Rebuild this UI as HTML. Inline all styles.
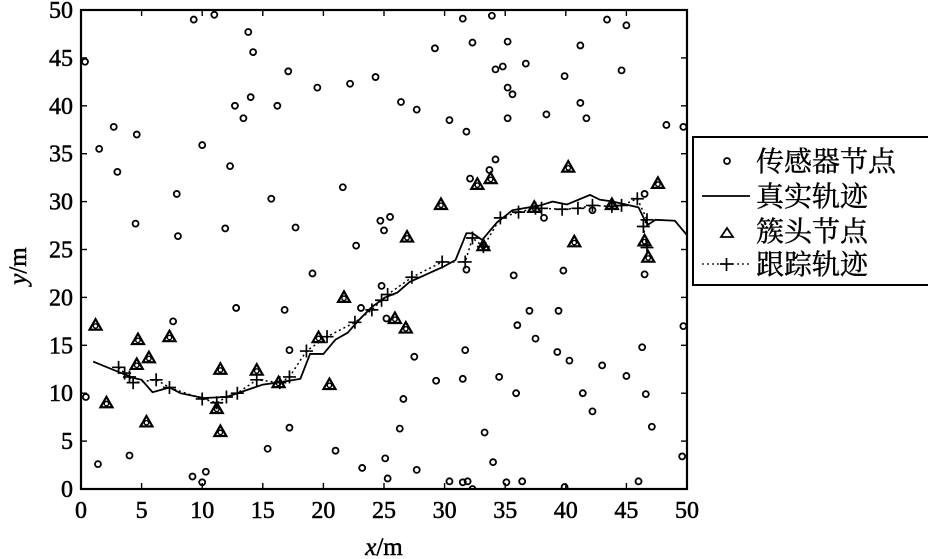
<!DOCTYPE html>
<html><head><meta charset="utf-8">
<style>
html,body{margin:0;padding:0;background:#fff;}
svg{display:block;font-family:"Liberation Serif","Noto Serif CJK SC",serif;}
</style></head>
<body>
<svg id="chart" width="928" height="559" viewBox="0 0 928 559" xmlns="http://www.w3.org/2000/svg">
<g id="axes"></g>
<g id="marks"></g>
<g id="legend">
  <rect x="693" y="137" width="240" height="148" fill="#fff" stroke="#000" stroke-width="2"/>
  <g>
    <circle cx="727" cy="161" r="3" fill="none" stroke="#000" stroke-width="1.7"/>
    <text x="756" y="171" font-size="28" font-family="'Noto Serif CJK SC','Noto Sans CJK SC',serif" stroke="#000" stroke-width="0.4">传感器节点</text>
  </g>
  <g>
    <line x1="702" y1="196" x2="750" y2="196" stroke="#000" stroke-width="1.7"/>
    <text x="756" y="206" font-size="28" font-family="'Noto Serif CJK SC','Noto Sans CJK SC',serif" stroke="#000" stroke-width="0.4">真实轨迹</text>
  </g>
  <g>
    <path d="M721,237 L727,228 L733,237 Z" fill="none" stroke="#000" stroke-width="1.8"/>
    <text x="756" y="241" font-size="28" font-family="'Noto Serif CJK SC','Noto Sans CJK SC',serif" stroke="#000" stroke-width="0.4">簇头节点</text>
  </g>
  <g>
    <line x1="702" y1="264" x2="750" y2="264" stroke="#000" stroke-width="1.3" stroke-dasharray="2,3"/>
    <line x1="720" y1="264" x2="733" y2="264" stroke="#000" stroke-width="1.7"/>
    <line x1="726.5" y1="258" x2="726.5" y2="271" stroke="#000" stroke-width="1.7"/>
    <text x="756" y="274" font-size="28" font-family="'Noto Serif CJK SC','Noto Sans CJK SC',serif" stroke="#000" stroke-width="0.4">跟踪轨迹</text>
  </g>
</g>
<text x="384" y="555" font-size="25" text-anchor="middle" stroke="#000" stroke-width="0.5"><tspan font-style="italic">x</tspan>/m</text>
<text transform="translate(26,266) rotate(-90)" font-size="25" text-anchor="middle" stroke="#000" stroke-width="0.5"><tspan font-style="italic">y</tspan>/m</text>
</svg>
<script>
const xTicks=[0,5,10,15,20,25,30,35,40,45,50];
const yTicks=[0,5,10,15,20,25,30,35,40,45,50];
const sensorX=[0.33,9.3,11.0,13.8,14.2,17.1,19.5,22.2,24.3,14.0,12.7,16.2,13.4,2.7,4.6,1.5,10.0,3.0,12.3,7.9,15.7,21.6,4.5,8.0,11.9,17.7,22.7,24.7,25.0,25.5,31.5,33.9,43.4,45.0,29.2,32.3,35.2,41.2,34.2,34.8,36.7,39.9,44.6,35.2,35.6,26.4,27.7,30.4,31.8,35.2,38.4,41.2,41.7,48.3,49.7,34.2,33.7,32.1,46.5,42.2,38.2,0.4,1.4,4.0,7.6,12.8,16.8,17.2,19.1,24.8,23.1,25.2,17.2,15.4,21.0,23.2,25.1,25.3,9.2,10.3,10.0,31.8,35.7,39.8,46.5,37.0,39.4,36.0,37.5,31.7,39.3,40.3,43.0,46.3,49.7,27.5,29.3,31.5,34.5,45.0,35.9,41.4,46.6,26.6,42.2,47.1,26.3,33.3,27.7,34.0,49.6,30.4,31.5,31.9,32.3,35.1,36.4,39.9,46.0];
const sensorY=[44.6,49.0,49.5,47.7,45.6,43.6,41.9,42.3,43.0,40.9,40.0,40.0,38.7,37.8,37.0,35.5,35.9,33.1,33.7,30.8,30.3,31.5,27.7,26.4,27.2,27.3,25.4,28.0,27.0,28.4,49.1,49.4,49.0,48.4,46.0,46.6,46.7,46.3,43.8,44.1,44.4,43.1,43.7,41.9,41.2,40.4,39.6,38.5,37.3,38.7,39.1,40.3,38.7,38.0,37.8,34.4,33.3,32.4,30.8,29.1,28.3,9.6,2.6,3.5,17.5,18.9,18.7,14.5,22.5,21.2,18.9,17.8,6.4,4.2,4.0,2.2,3.2,1.1,1.3,1.8,0.7,22.9,22.3,22.8,22.4,18.6,18.6,17.1,15.7,14.5,14.3,13.4,12.9,14.8,17.0,13.8,11.3,11.5,11.7,11.8,10.0,10.0,9.9,9.4,8.1,6.5,6.3,5.9,2.0,2.8,3.4,0.8,0.7,0.8,0.0,0.7,0.8,0.2,0.8];
const headX=[1.2,2.1,4.7,5.6,4.6,5.4,7.3,11.5,11.2,11.5,14.5,16.3,19.6,20.5,21.7,25.9,26.8,29.7,26.9,32.7,33.8,40.2,40.7,33.2,43.8,46.5,47.6,37.4,46.8];
const headY=[17.1,9.0,15.6,13.7,13.0,7.0,15.9,12.5,8.4,6.0,12.4,11.1,15.8,10.9,20.0,17.8,16.8,29.7,26.3,31.8,32.4,33.6,25.8,25.4,29.7,25.9,31.9,29.4,24.2];
const trueX=[1.0,4.3,5.0,5.9,7.3,8.2,10.1,12.0,15.0,16.2,18.1,18.9,20.0,21.0,22.0,22.9,24.0,25.1,26.1,27.1,29.9,30.9,31.8,32.3,33.1,34.3,35.6,37.9,38.9,40.1,42.0,42.8,43.9,46.0,46.5,46.8,47.4,49.0,50.0];
const trueY=[13.3,11.6,11.4,10.1,10.6,10.0,9.5,9.6,10.9,11.1,11.5,14.1,14.1,15.6,16.3,17.6,19.0,20.0,20.5,21.6,23.2,23.9,26.7,26.7,26.0,27.8,29.1,29.6,30.0,29.7,30.7,30.2,30.0,29.4,28.1,27.6,28.1,28.0,26.5];
const trackX=[3.1,3.6,4.0,4.3,6.2,7.3,10.0,11.2,12.0,12.9,14.5,16.4,17.2,18.6,20.3,22.6,24.0,24.8,25.3,27.3,29.8,31.7,32.3,33.2,34.6,36.1,37.5,38.0,39.7,41.0,42.2,43.8,44.6,45.9,46.7,46.4,46.7];
const trackY=[12.7,12.1,11.7,11.1,11.4,10.6,9.4,9.0,9.6,10.0,11.4,11.1,11.7,14.4,15.9,17.4,18.7,19.7,20.3,22.1,23.7,23.7,26.2,25.3,28.3,28.9,29.3,29.3,29.2,29.3,29.6,29.5,29.6,30.3,28.1,27.4,25.2];

const L=81,R=687,T=10,B=489;
const sx=v=>L+(v-0)/50*(R-L);
const sy=v=>B-(v-0)/50*(B-T);
const NS="http://www.w3.org/2000/svg";
function mk(tag,attrs,parent){const e=document.createElementNS(NS,tag);for(const k in attrs)e.setAttribute(k,attrs[k]);parent.appendChild(e);return e;}
const axes=document.getElementById('axes');
const marks=document.getElementById('marks');
const defs=mk('defs',{},document.getElementById('chart'));
const cp=mk('clipPath',{id:'clip'},defs);
mk('rect',{x:L,y:T,width:R-L,height:B-T},cp);

xTicks.forEach(t=>{
  const x=sx(t);
  const a=mk('line',{x1:x,y1:B,x2:x,y2:B-6,stroke:'#000','stroke-width':1.4},axes);
  
  
  const b=mk('line',{x1:x,y1:T,x2:x,y2:T+6,stroke:'#000','stroke-width':1.4},axes);
  
  
  const tx=mk('text',{x:x,y:B+29,'font-size':24,'text-anchor':'middle',stroke:'#000','stroke-width':0.5},axes);
  tx.textContent=t;
  
  
});
yTicks.forEach(t=>{
  const y=sy(t);
  const a=mk('line',{x1:L,y1:y,x2:L+6,y2:y,stroke:'#000','stroke-width':1.4},axes);
  
  
  const b=mk('line',{x1:R,y1:y,x2:R-6,y2:y,stroke:'#000','stroke-width':1.4},axes);
  
  
  const tx=mk('text',{x:L-8,y:y+8,'font-size':24,'text-anchor':'end',stroke:'#000','stroke-width':0.5},axes);
  tx.textContent=t;
  
  
});
const frame=mk('rect',{x:L,y:T,width:R-L,height:B-T,fill:'none',stroke:'#000','stroke-width':2.2},axes);



const g=mk('g',{'clip-path':'url(#clip)'},marks);
sensorX.forEach((v,i)=>{
  const c=mk('circle',{cx:sx(v),cy:sy(sensorY[i]),r:3,fill:'none',stroke:'#000','stroke-width':1.8},g);
  
  
});
const tl=mk('polyline',{points:trueX.map((v,i)=>sx(v)+','+sy(trueY[i])).join(' '),fill:'none',stroke:'#000','stroke-width':1.8},g);


const kl=mk('polyline',{points:trackX.map((v,i)=>sx(v)+','+sy(trackY[i])).join(' '),fill:'none',stroke:'#000','stroke-width':1.5,'stroke-dasharray':'2,3'},g);


trackX.forEach((v,i)=>{
  const x=sx(v),y=sy(trackY[i]);
  const p=mk('path',{d:`M${x-6.5},${y}H${x+6.5}M${x},${y-6.5}V${y+6.5}`,stroke:'#000','stroke-width':1.7,fill:'none'},g);
  
  
});
headX.forEach((v,i)=>{
  const x=sx(v),y=sy(headY[i]);
  const p=mk('path',{d:`M${x-6},${y+4.5} L${x},${y-6} L${x+6},${y+4.5} Z`,stroke:'#000','stroke-width':2.2,fill:'none'},g);
  
  
  const c=mk('circle',{cx:x,cy:y+0.8,r:2.2,fill:'none',stroke:'#000','stroke-width':1.4},g);
  
  
});
</script>
</body></html>
